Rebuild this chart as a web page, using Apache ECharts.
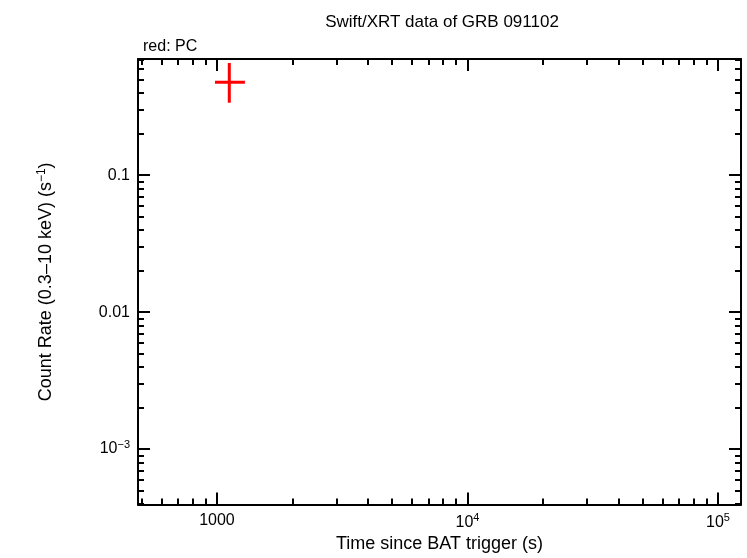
<!DOCTYPE html>
<html>
<head>
<meta charset="utf-8">
<script src="https://cdn.jsdelivr.net/npm/echarts@6/dist/echarts.min.js"></script>
<style>html,body{margin:0;padding:0;background:#fff}#chart{width:747px;height:558px}</style>
</head>
<body>
<div id="chart"></div>
<script>
// PC data point: [time, tLow, tHigh, rate, rateLow, rateHigh]
const pcPoints = [[1120, 982, 1293, 0.477, 0.338, 0.659]];
const xRange = [484, 123500];
const yRange = [3.93e-4, 0.705];

function expOf(v) {
  return Math.round(Math.log10(v));
}
function xLabel(v) {
  const e = expOf(v);
  if (e === 3) return "1000";
  return "10{s|" + e + "}";
}
function yLabel(v) {
  const e = expOf(v);
  if (e === -1) return "0.1";
  if (e === -2) return "0.01";
  return "10{s|\u2212" + (-e) + "}";
}

const font = "Liberation Sans";
const rich = { s: { fontSize: 11, verticalAlign: "top", padding: [0, 0, 8, 0], fontFamily: font } };
const lineStyle = { color: "#000", width: 2 };

const baseAxis = (pos, range, fmt, showLabel) => ({
  type: "log",
  logBase: 10,
  position: pos,
  min: range[0],
  max: range[1],
  axisLine: { show: true, lineStyle: lineStyle },
  axisTick: { show: true, inside: true, length: 12, lineStyle: lineStyle },
  minorTick: { show: true, splitNumber: 9, length: 6, lineStyle: { color: "#000", width: 2 } },
  splitLine: { show: false },
  axisLabel: { show: showLabel, showMinLabel: false, showMaxLabel: false, formatter: fmt,
    color: "#000", fontSize: 16, fontFamily: font, rich: rich, margin: 8 }
});

const myChart = echarts.init(document.getElementById("chart"));
const option = {
  animation: false,
  title: [
    { text: "Swift/XRT data of GRB 091102", left: 437, top: 9, textAlign: "center",
      textStyle: { fontSize: 17, fontWeight: "normal", color: "#000", fontFamily: font } },
    { text: "red: PC", left: 138, top: 34,
      textStyle: { fontSize: 16, fontWeight: "normal", color: "#000", fontFamily: font } }
  ],
  grid: { left: 138, right: 6, top: 59, bottom: 50 },
  xAxis: [
    Object.assign(baseAxis("bottom", xRange, xLabel, true), {
      name: "Time since BAT trigger (s)", nameLocation: "middle", nameGap: 28,
      nameTextStyle: { fontSize: 18, color: "#000", fontFamily: font }
    }),
    baseAxis("top", xRange, xLabel, false)
  ],
  yAxis: [
    Object.assign(baseAxis("left", yRange, yLabel, true), {
      name: "Count Rate (0.3\u201310 keV) (s{s|\u22121})", nameLocation: "middle", nameGap: 82,
      nameTextStyle: { fontSize: 18, color: "#000", fontFamily: font, rich: { s: { fontSize: 12, verticalAlign: "top", padding: [0, 0, 8, 0], fontFamily: font } } }
    }),
    baseAxis("right", yRange, yLabel, false)
  ],
  series: [{
    type: "custom",
    xAxisIndex: 0,
    yAxisIndex: 0,
    data: pcPoints,
    encode: { x: 0, y: 3 },
    renderItem: function (params, api) {
      const c = api.coord([api.value(0), api.value(3)]);
      const xl = api.coord([api.value(1), api.value(3)]);
      const xh = api.coord([api.value(2), api.value(3)]);
      const yl = api.coord([api.value(0), api.value(4)]);
      const yh = api.coord([api.value(0), api.value(5)]);
      const st = { stroke: "#f00", lineWidth: 3 };
      return { type: "group", children: [
        { type: "line", shape: { x1: xl[0], y1: c[1], x2: xh[0], y2: c[1] }, style: st },
        { type: "line", shape: { x1: c[0], y1: yl[1], x2: c[0], y2: yh[1] }, style: st }
      ] };
    }
  }]
};
myChart.setOption(option);
</script>
</body>
</html>
